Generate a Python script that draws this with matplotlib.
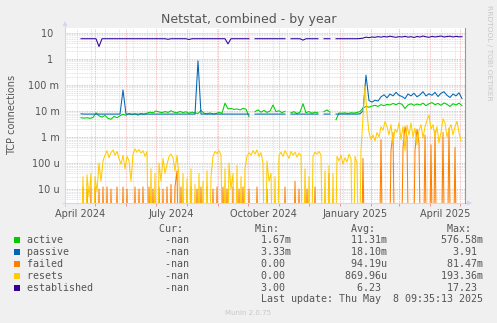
import numpy as np
import pandas as pd
import matplotlib
matplotlib.use('Agg')
import matplotlib.pyplot as plt
import matplotlib.dates as mdates
from matplotlib.lines import Line2D
from matplotlib.patches import Rectangle, Polygon
from matplotlib.ticker import LogLocator, FixedLocator, FixedFormatter, NullFormatter

nan = np.nan

# smooth series: one sample every 3 days from 17 Apr 2024
start_date = '2024-04-17'
step_slow = '3D'
# spiky series (failed, resets): one sample every 2 days
step_fast = '2D'

# active connections, in milli
active_m = [
    5.5, 5.3, 5.5, 5.2, 5.6, 8.5, 6.5, 5.8, 6.8, 5.2,
    4.8, 6.2, 5.5, 6.5, 7.5, 6.8, 8.0, 7.2, 7.8, 6.9,
    8.0, 7.4, 8.3, 9.0, 8.5, 10.0, 9.2, 8.6, 9.5, 8.8,
    10.2, 9.0, 8.5, 9.6, 8.7, 9.3, 8.2, 9.0, 8.4, 8.0,
    10.5, 8.2, 7.8, 8.4, 7.6, 8.0, 8.8, 8.2, 20.0, 12.0,
    12.5, 11.5, 12.0, 11.0, 12.5, 11.8, 6.0, nan, 9.5, 11.0,
    9.0, 10.5, 8.8, 10.0, 17.0, 9.5, 10.2, 8.6, 9.8, nan,
    8.5, 9.4, 8.0, 9.0, 19.0, 8.6, 9.5, 8.2, 9.0, 8.4,
    nan, 9.5, 11.0, 9.0, nan, 4.6, 8.4, 8.2, 8.5, 8.0,
    8.6, 8.3, 8.8, 9.5, 13.0, 15.0, 14.0, 15.5, 16.5, 15.0,
    17.5, 16.0, 18.0, 17.0, 19.5, 17.5, 20.0, 18.0, 12.5, 17.0,
    19.0, 16.5, 18.5, 17.0, 20.0, 16.0, 19.0, 21.0, 17.5, 19.5,
    16.5, 20.5, 18.0, 15.0, 19.0, 17.0, 20.0, 16.0,
]

# passive connections, in milli
passive_m = [
    7.8, 7.6, 7.6, 7.6, 7.6, 7.6, 7.6, 7.6, 7.6, 7.6,
    7.6, 7.6, 7.6, 7.6, 64.0, 7.6, 7.6, 7.6, 7.6, 7.6,
    7.6, 7.6, 7.6, 7.6, 7.6, 7.6, 7.6, 7.6, 7.6, 7.6,
    7.6, 7.6, 7.6, 7.6, 7.6, 7.6, 7.6, 7.6, 7.6, 850.0,
    7.6, 7.6, 7.6, 7.6, 7.6, 7.6, 7.6, 7.6, 7.6, 7.6,
    7.6, 7.6, 7.6, 7.6, 7.6, 7.6, 7.6, nan, 7.6, 7.6,
    7.6, 7.6, 7.6, 7.6, 7.6, 7.6, 7.6, 7.6, 7.6, nan,
    7.6, 7.6, 7.6, 7.6, 7.6, 7.6, 7.6, 7.6, 7.6, 7.6,
    nan, 7.6, 7.6, 7.6, nan, 7.6, 7.6, 7.6, 7.6, 7.6,
    7.6, 7.6, 7.6, 7.8, 10.0, 240.0, 25.0, 22.0, 26.0, 24.0,
    35.0, 42.0, 32.0, 45.0, 38.0, 52.0, 40.0, 36.0, 30.0, 45.0,
    38.0, 48.0, 35.0, 42.0, 55.0, 38.0, 46.0, 40.0, 52.0, 36.0,
    48.0, 55.0, 40.0, 33.0, 45.0, 38.0, 50.0, 30.0,
]

established = [
    6.0, 6.0, 6.0, 6.0, 6.0, 6.0, 3.0, 6.0, 6.0, 6.0,
    6.0, 6.0, 6.0, 6.0, 6.0, 6.0, 6.0, 6.0, 6.0, 6.0,
    6.0, 6.0, 6.0, 6.0, 6.0, 6.0, 6.0, 6.0, 6.0, 5.7,
    6.0, 6.0, 6.0, 6.0, 6.0, 6.0, 5.6, 6.0, 6.0, 6.0,
    6.0, 6.0, 6.0, 6.0, 6.0, 6.0, 6.0, 6.0, 6.0, 3.8,
    6.0, 6.0, 6.0, 6.0, 6.0, 6.0, 6.0, nan, 6.0, 6.0,
    6.0, 6.0, 6.0, 6.0, 6.0, 6.0, 6.0, 6.0, 6.0, nan,
    6.0, 6.0, 6.0, 6.0, 5.3, 6.0, 6.0, 6.0, 6.0, 6.0,
    nan, 6.0, 6.0, 6.0, nan, 6.0, 6.0, 6.0, 6.0, 6.0,
    6.0, 6.0, 6.0, 6.1, 6.3, 6.9, 6.6, 7.0, 6.8, 7.2,
    6.9, 7.3, 7.0, 7.5, 7.1, 6.8, 7.2, 7.0, 7.4, 6.9,
    7.2, 6.7, 7.3, 7.0, 7.6, 7.1, 6.8, 7.4, 7.0, 7.3,
    7.6, 7.0, 7.3, 7.5, 7.0, 7.4, 7.1, 7.2,
]

# failed connections, in micro (0 = nothing)
failed_u = [
    0, 12, 0, 10, 0, 12, 0, 12, 0, 10,
    0, 12, 0, 12, 0, 10, 0, 0, 12, 0,
    0, 12, 0, 10, 0, 0, 0, 12, 0, 10,
    0, 12, 0, 0, 12, 0, 10, 0, 0, 12,
    0, 10, 0, 12, 0, 15, 0, 12, 50, 0,
    12, 0, 0, 10, 0, 12, 0, 0, 10, 0,
    12, 0, 0, 12, 0, 0, 10, 0, 12, 0,
    0, 12, 0, 10, 0, 0, 12, 0, 0, 10,
    0, 12, 0, 0, 10, 0, 0, 0, 12, 0,
    0, 0, 0, 10, 0, 0, 0, 0, 0, 0,
    0, 0, 12, 0, 0, 0, 0, 20, 0, 10,
    0, 0, 0, 10, 0, 0, 0, 12, 0, 0,
    0, 0, 0, 0, 40, 0, 0, 0, 0, 0,
    0, 0, 0, 0, 0, 0, 0, 0, 0, 0,
    0, 150, 0, 0, 0, 0, 0, 0, 0, 0,
    800, 0, 0, 0, 0, 300, 1500, 0, 0, 0,
    0, 400, 2500, 1000, 0, 0, 0, 300, 2000, 600,
    0, 0, 1200, 0, 0, 500, 0, 1800, 0, 0,
    0, 1500, 0, 0, 2200, 0, 0, 400, 0, 0,
    0,
]

# connection resets, in micro
resets_u = [
    0, 30, 0, 35, 5, 40, 0, 30, 8, 100,
    20, 120, 200, 300, 160, 250, 320, 200, 280, 150,
    90, 200, 60, 180, 120, 20, 220, 350, 260, 330,
    240, 300, 180, 280, 0, 60, 0, 40, 0, 100,
    20, 150, 40, 90, 180, 220, 160, 50, 200, 30,
    0, 40, 0, 25, 0, 60, 0, 15, 0, 40,
    0, 20, 0, 50, 0, 30, 180, 280, 230, 300,
    200, 0, 60, 0, 100, 10, 40, 0, 80, 0,
    30, 0, 60, 180, 250, 200, 300, 220, 320, 180,
    250, 100, 0, 120, 20, 40, 0, 30, 0, 200,
    260, 180, 300, 220, 150, 280, 200, 260, 170, 240,
    200, 0, 60, 0, 30, 0, 180, 260, 220, 280,
    200, 0, 50, 0, 80, 0, 40, 0, 180, 120,
    200, 90, 160, 110, 220, 140, 0, 180, 100, 0,
    300, 6000, 90000, 8000, 1500, 800, 1200, 700, 1500, 1000,
    2500, 1800, 4000, 2500, 1200, 3000, 600, 2000, 1500, 3500,
    800, 2500, 300, 2800, 1200, 3500, 1000, 2200, 500, 1800,
    3000, 900, 2500, 4500, 7000, 2000, 3000, 1000, 2500, 600,
    1500, 5000, 3500, 1000, 2000, 3000, 1200, 2500, 4000, 1500,
    700,
]

series_names = ['active', 'passive', 'failed', 'resets', 'established']
series_colors = ['#00CC00', '#0066B3', '#FF8000', '#FFCC00', '#330099']

# legend table as printed by munin
cur_txt = ['-nan', '-nan', '-nan', '-nan', '-nan']
min_txt = ['1.67m', '3.33m', '0.00', '0.00', '3.00']
avg_txt = ['11.31m', '18.10m', '94.19u', '869.96u', '6.23']
max_txt = ['576.58m', '3.91', '81.47m', '193.36m', '17.23']
last_update = 'Last update: Thu May  8 09:35:13 2025'

ytick_vals = [1e-5, 1e-4, 1e-3, 1e-2, 1e-1, 1, 10]
ytick_txt = ['10 u', '100 u', '1 m', '10 m', '100 m', '1  ', '10  ']

W, H = 497, 323
FONT = '#555555'


def fx(x):
    return x / W


def fy(y):
    return 1 - y / H


def field(s):
    # rrdtool style "%6.2lf%s": unitless numbers keep a trailing blank
    if s[-1] not in 'mukMG':
        s = s + ' '
    return s.rjust(7)


slow_dates = pd.date_range(start_date, periods=len(established), freq=step_slow)
fast_dates = pd.date_range(start_date, periods=len(resets_u), freq=step_fast)
series = [
    (slow_dates, np.array(active_m) * 1e-3),
    (slow_dates, np.array(passive_m) * 1e-3),
    (fast_dates, np.array(failed_u, dtype=float) * 1e-6),
    (fast_dates, np.array(resets_u, dtype=float) * 1e-6),
    (slow_dates, np.array(established)),
]

fig = plt.figure(figsize=(W / 100, H / 100), dpi=100, facecolor='#F0F0F0')
ax = fig.add_axes([fx(65), fy(203), 400 / W, 175 / H])
ax.set_facecolor('white')
ax.set_yscale('log')
ax.set_ylim(2.9e-6, 15.5)
x0, x1 = pd.Timestamp('2024-04-01'), pd.Timestamp('2025-05-06')
ax.set_xlim(x0, x1)

# grid, drawn by hand like rrdtool
for d in pd.date_range('2024-04-13', x1, freq='14D'):
    ax.axvline(d, color='#D8D8D8', lw=0.6, ls=(0, (1, 1)), zorder=0)
for d in pd.date_range('2024-05-01', x1, freq='MS'):
    ax.axvline(d, color='#F0A8A8', lw=0.6, ls=(0, (1, 1)), zorder=0.5)
ax.yaxis.set_major_locator(FixedLocator(ytick_vals))
ax.yaxis.set_major_formatter(FixedFormatter(ytick_txt))
ax.yaxis.set_minor_locator(LogLocator(base=10, subs=range(2, 10), numticks=20))
ax.yaxis.set_minor_formatter(NullFormatter())
ax.grid(which='major', axis='y', color='#F0A8A8', lw=0.6, ls=(0, (1, 1)))
ax.grid(which='minor', axis='y', color='#D8D8D8', lw=0.6, ls=(0, (1, 1)))
ax.set_axisbelow(True)

ax.xaxis.set_major_locator(mdates.MonthLocator(bymonth=[1, 4, 7, 10], bymonthday=16))
ax.xaxis.set_major_formatter(mdates.DateFormatter('%B %Y'))
ax.xaxis.set_minor_locator(mdates.MonthLocator())
ax.tick_params(axis='x', which='major', length=0, pad=4, labelsize=7, labelcolor=FONT)
ax.tick_params(axis='x', which='minor', length=2.5, width=0.6, color='#F08080', direction='out')
ax.tick_params(axis='y', which='both', length=0, pad=4, labelsize=7, labelcolor=FONT)
for s in ax.spines.values():
    s.set_visible(False)

for (d, vals), col in zip(series, series_colors):
    v = np.where(vals == 0, 1e-9, vals)
    ax.plot(d, v, color=col, lw=0.75, solid_joinstyle='round')

# axes with arrows
axis_col = '#CFD6F8'
fig.add_artist(Line2D([fx(63), fx(468)], [fy(203), fy(203)], color=axis_col, lw=0.8))
fig.add_artist(Polygon([(fx(467), fy(200.5)), (fx(472), fy(203)), (fx(467), fy(205.5))],
                       closed=True, color=axis_col, lw=0))
fig.add_artist(Line2D([fx(65), fx(65)], [fy(205), fy(25)], color=axis_col, lw=0.8))
fig.add_artist(Polygon([(fx(62.5), fy(26)), (fx(65), fy(21)), (fx(67.5), fy(26))],
                       closed=True, color=axis_col, lw=0))
fig.add_artist(Line2D([fx(465), fx(465)], [fy(28), fy(203)], color='#999999', lw=0.8))

fig.text(fx(249), fy(23.5), 'Netstat, combined - by year', ha='center', va='baseline',
         fontsize=9, color=FONT)
fig.text(fx(12), fy(115), 'TCP connections', rotation=90, ha='center', va='center',
         fontsize=7, color=FONT)
fig.text(fx(489), fy(53), 'RRDTOOL / TOBI OETIKER', rotation=270, ha='center', va='center',
         fontsize=5.4, color='#C8C8C8')

# legend block, monospace columns
mono = dict(family='DejaVu Sans Mono', fontsize=7.18, color=FONT, va='baseline', ha='left')
header = ' ' * 22 + 'Cur:' + ' ' * 12 + 'Min:' + ' ' * 12 + 'Avg:' + ' ' * 12 + 'Max:'
fig.text(fx(27), fy(231.5), header, **mono)
base = 243
for i, name in enumerate(series_names):
    y = base + 12 * i
    row = (name.ljust(21) + field(cur_txt[i]) + ' ' * 9 + field(min_txt[i]) + ' ' * 9
           + field(avg_txt[i]) + ' ' * 9 + field(max_txt[i]))
    fig.text(fx(27), fy(y), row, **mono)
    fig.add_artist(Rectangle((fx(14), fy(y)), 6 / W, 6 / H, facecolor=series_colors[i],
                             edgecolor='none', transform=fig.transFigure))
fig.text(fx(27), fy(302.5), ' ' * 39 + last_update, **mono)
fig.text(fx(248), fy(315), 'Munin 2.0.75', ha='center', va='baseline', fontsize=5,
         color='#C8C8C8')

fig.savefig('out.png', dpi=100, facecolor=fig.get_facecolor())
